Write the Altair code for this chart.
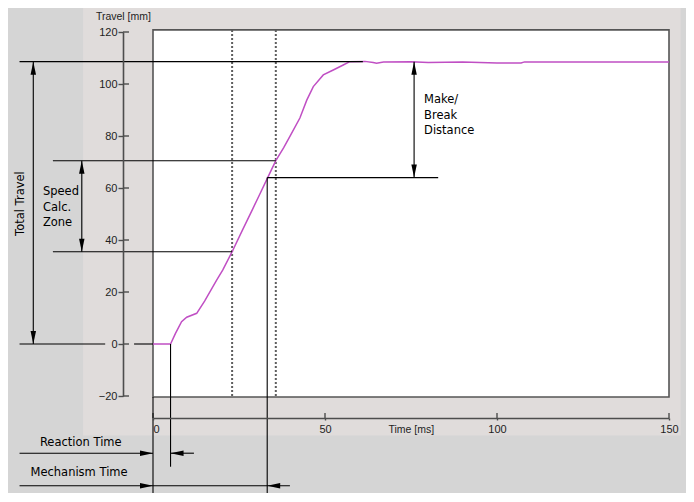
import altair as alt
import pandas as pd

# ---------------- data ----------------
# purple travel curve
time_ms = [0, 5.1, 6.5, 8.3, 9.8, 12.7, 15.0, 18.5, 20.3, 23.0, 26.0, 29.0, 31.0,
           33.2, 35.7, 38.0, 40.0, 42.7, 44.7, 46.6, 49.5, 52.4, 55.3, 57.2, 61.6,
           64.0, 65.0, 67.0, 75.0, 80.0, 90.0, 100.0, 107.0, 108.0, 150.0]
travel_mm = [0, 0, 4.0, 8.6, 10.3, 11.8, 16.5, 24.6, 28.5, 35.5, 43.8, 52.0, 57.5,
             63.6, 70.5, 75.5, 80.3, 86.9, 93.8, 99.0, 103.5, 105.4, 107.3, 108.6, 108.7,
             108.3, 108.0, 108.5, 108.6, 108.3, 108.5, 108.1, 108.1, 108.5, 108.5]

# axis ticks
y_ticks = [-20, 0, 20, 40, 60, 80, 100, 120]
x_ticks = [0, 50, 100, 150]

# dotted speed-zone markers (ms)
dotted_t = [23.0, 35.7]

# annotation line segments (time, travel) -> (time, travel)
seg_x1 = [-38.8, -38.8, -5.5, -29.1, -29.1, 33.2, 75.9, -34.8, -20.7, 5.1, 33.2, 0.0, -38.8, 5.1, -38.8]
seg_y1 = [108.6, 0.0, 0.0, 70.5, 35.5, 64.0, 108.6, 108.6, 70.5, 0.0, 64.0, -20.4, -42.0, -42.0, -54.5]
seg_x2 = [61.0, -13.9, 0.0, 35.7, 23.0, 82.9, 75.9, -34.8, -20.7, 5.1, 33.2, 0.0, 0.0, 11.9, 39.8]
seg_y2 = [108.6, 0.0, 0.0, 70.5, 35.5, 64.0, 64.0, 0.0, 35.5, -47.2, -58.7, -58.7, -42.0, -42.0, -54.5]

# arrow heads (tip position and direction)
arrow_x = [0.0, 5.1, 0.0, 33.2, -34.8, -34.8, -20.7, -20.7, 75.9, 75.9]
arrow_y = [-42.0, -42.0, -54.5, -54.5, 108.6, 0.0, 70.5, 35.5, 108.6, 64.0]
arrow_dir = ["right", "left", "right", "left", "up", "down", "up", "down", "up", "down"]

# annotation texts
left_text = ["Speed", "Calc.", "Zone", "Make/", "Break", "Distance"]
left_x = [-32.0, -32.0, -32.0, 78.8, 78.8, 78.8]
left_y = [58.6, 52.4, 46.4, 93.85, 87.8, 82.0]

center_text = ["Reaction Time", "Mechanism Time"]
center_x = [-21.0, -21.5]
center_y = [-37.9, -49.7]

rot_text = ["Total Travel"]
rot_x = [-38.3]
rot_y = [54.0]

axis_text = ["Travel [mm]", "Time [ms]"]
axis_text_x = [-8.6, 75.1]
axis_text_y = [125.8, -32.9]

# ---------------- chart ----------------
W, H = 516, 364
xs = alt.Scale(domain=[0, 150], nice=False, zero=False)
ys = alt.Scale(domain=[-20, 120], nice=False, zero=False)

xaxis = alt.Axis(values=x_ticks, offset=22, orient="bottom", title=None, grid=False,
                 domainColor="#4d4d4d", domainWidth=1.6, tickColor="#4d4d4d",
                 tickWidth=1.4, tickSize=2, labelPadding=3,
                 labelFont="Liberation Sans", labelFontSize=11, labelColor="#1e1e1e",
                 labelAlign={"expr": "datum.value == 0 ? 'left' : 'center'"},
                 zindex=2)
yaxis = alt.Axis(values=y_ticks, offset=30, orient="left", title=None, grid=False,
                 domainColor="#4d4d4d", domainWidth=1.6, tickColor="#4d4d4d",
                 tickWidth=1.4, tickSize=5, labelPadding=1,
                 labelFont="Liberation Sans", labelFontSize=11, labelColor="#1e1e1e",
                 zindex=2)


def X(f):
    return alt.X(f, type="quantitative", scale=xs, axis=xaxis)


def Y(f):
    return alt.Y(f, type="quantitative", scale=ys, axis=yaxis)


frame_df = pd.DataFrame({"x": [-20.34, 0.0], "x2": [153.4, 150.0],
                         "y": [130.0, 120.8], "y2": [-35.2, -20.4],
                         "k": ["panel", "plot"]})

panel = alt.Chart(frame_df[frame_df.k == "panel"]).mark_rect(
    fill="#e0dcdb", stroke=None).encode(x=X("x"), x2="x2", y=Y("y"), y2="y2")
plotbox = alt.Chart(frame_df[frame_df.k == "plot"]).mark_rect(
    fill="white", stroke="#555555", strokeWidth=1.6).encode(x=X("x"), x2="x2", y=Y("y"), y2="y2")

dotted = alt.Chart(pd.DataFrame({"t": dotted_t, "a": 120.8, "b": -20.4})).mark_rule(
    color="#5e5e5e", strokeWidth=2, strokeDash=[2, 2]).encode(x=X("t"), y=Y("a"), y2="b")

curve = alt.Chart(pd.DataFrame({"t": time_ms, "v": travel_mm})).mark_line(
    color="#c04fc4", strokeWidth=1.5, interpolate="linear").encode(x=X("t"), y=Y("v"))

ytick_df = pd.DataFrame({"v": y_ticks, "a": -8.72, "b": -6.97})
ytick_in = alt.Chart(ytick_df).mark_rule(color="#4d4d4d", strokeWidth=1.4).encode(
    x=X("a"), x2="b", y=Y("v"))
xtick_df = pd.DataFrame({"t": x_ticks, "a": -28.46, "b": -26.5})
xtick_in = alt.Chart(xtick_df).mark_rule(color="#4d4d4d", strokeWidth=1.4).encode(
    x=X("t"), y=Y("a"), y2="b")

seg_df = pd.DataFrame({"x1": seg_x1, "y1": seg_y1, "x2": seg_x2, "y2": seg_y2})
segments = alt.Chart(seg_df).mark_rule(color="black", strokeWidth=1.1).encode(
    x=X("x1"), y=Y("y1"), x2="x2", y2="y2")

arrow_paths = {
    "right": "M0,0L-2,-0.42L-2,0.42Z",
    "left": "M0,0L2,-0.42L2,0.42Z",
    "up": "M0,0L-0.42,2L0.42,2Z",
    "down": "M0,0L-0.42,-2L0.42,-2Z",
}
arrows = alt.Chart(pd.DataFrame({"t": arrow_x, "v": arrow_y, "d": arrow_dir})).mark_point(
    filled=True, size=169, color="black", opacity=1, strokeWidth=0).encode(
    x=X("t"), y=Y("v"),
    shape=alt.Shape("d:N", legend=None,
                    scale=alt.Scale(domain=list(arrow_paths.keys()),
                                    range=list(arrow_paths.values()))))

txt_left = alt.Chart(pd.DataFrame({"s": left_text, "t": left_x, "v": left_y})).mark_text(
    align="left", baseline="middle", font="DejaVu Sans", fontSize=11.5, color="black").encode(
    x=X("t"), y=Y("v"), text="s:N")
txt_center = alt.Chart(pd.DataFrame({"s": center_text, "t": center_x, "v": center_y})).mark_text(
    align="center", baseline="middle", font="DejaVu Sans", fontSize=11.5, color="black").encode(
    x=X("t"), y=Y("v"), text="s:N")
txt_rot = alt.Chart(pd.DataFrame({"s": rot_text, "t": rot_x, "v": rot_y})).mark_text(
    align="center", baseline="middle", angle=270, font="DejaVu Sans", fontSize=11.5,
    color="black").encode(x=X("t"), y=Y("v"), text="s:N")
txt_axis = alt.Chart(pd.DataFrame({"s": axis_text, "t": axis_text_x, "v": axis_text_y})).mark_text(
    align="center", baseline="middle", font="Liberation Sans", fontSize=10.5,
    color="#1e1e1e").encode(x=X("t"), y=Y("v"), text="s:N")

chart = alt.layer(
    panel, plotbox, dotted, curve, ytick_in, xtick_in, segments, arrows,
    txt_left, txt_center, txt_rot, txt_axis,
).properties(
    width=W, height=H,
    background="#d5d5d5",
    padding={"left": 145, "top": 24, "right": 17, "bottom": 97},
    autosize=alt.AutoSizeParams(type="none"),
).configure_view(stroke=None)

chart.save("out.html", embed_options={"renderer": "svg", "actions": False})
